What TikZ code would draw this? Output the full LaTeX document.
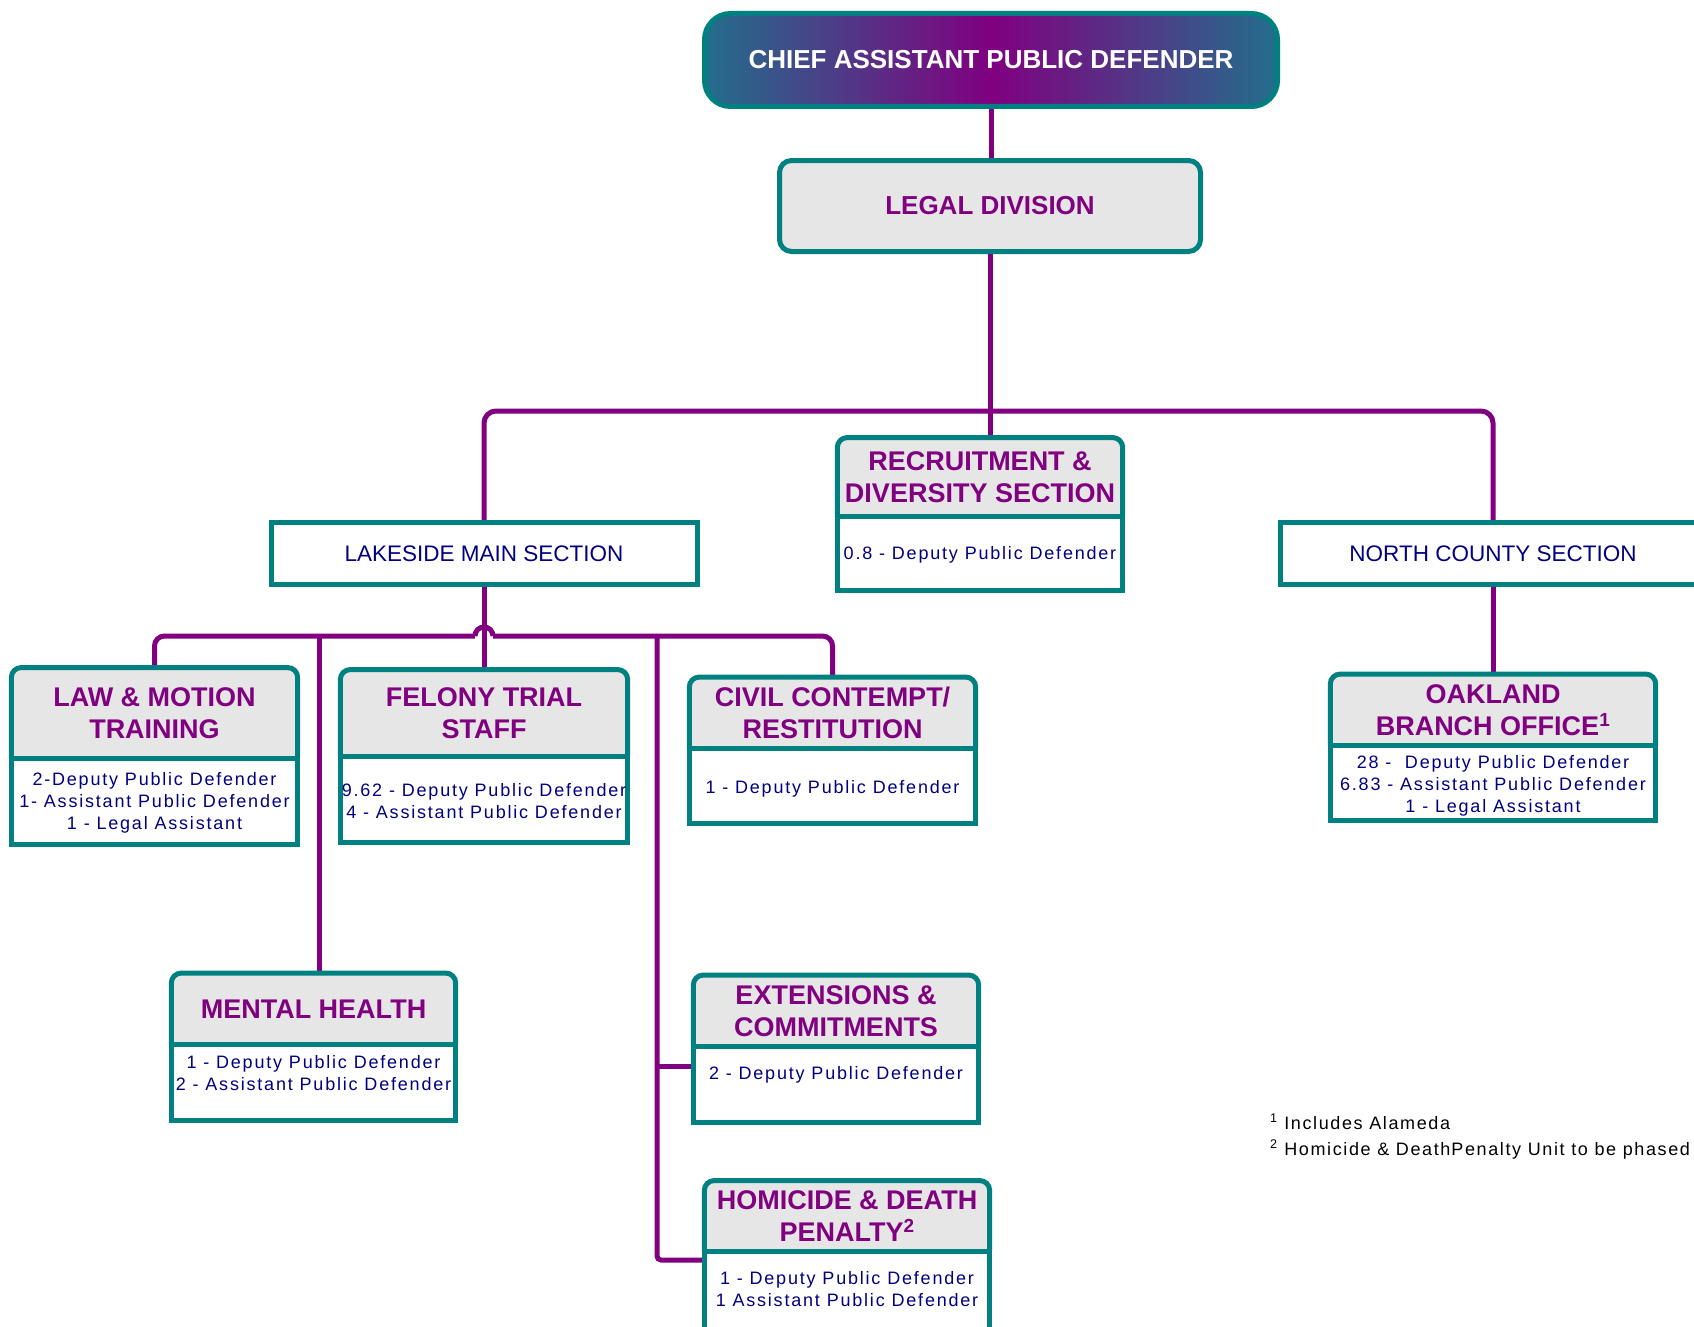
\documentclass[tikz,border=0pt]{standalone}
\usepackage{fontspec}
\setmainfont{Liberation Sans}
\newfontfamily\staff[LetterSpace=10]{Liberation Sans}
\newfontfamily\notefont[LetterSpace=9]{Liberation Sans}
\usetikzlibrary{backgrounds}

\definecolor{defpurple}{RGB}{128,0,128}
\definecolor{defnavy}{RGB}{0,0,128}
\definecolor{defteal}{RGB}{0,128,128}
\definecolor{boxgray}{RGB}{230,230,230}
\definecolor{chiefedge}{RGB}{35,110,140}

\tikzset{
  chief/.style={draw=defteal, line width=5pt, rounded corners=26pt,
    left color=chiefedge, right color=chiefedge, middle color=defpurple,
    minimum width=573pt, minimum height=93pt, text=white,
    font=\bfseries\fontsize{26}{31}\selectfont},
  division/.style={draw=defteal, line width=5pt, rounded corners=12pt, fill=boxgray,
    minimum width=421pt, minimum height=91pt, text=defpurple,
    font=\bfseries\fontsize{26}{31}\selectfont},
  section/.style={draw=defteal, line width=5pt, fill=white,
    minimum width=426pt, minimum height=62pt, text=defnavy,
    font=\fontsize{22.5}{27}\selectfont},
  head/.style={inner sep=0pt, align=center, text=defpurple,
    font=\bfseries\fontsize{27}{32.5}\selectfont},
  staff/.style={inner sep=0pt, align=center, text=defnavy,
    font=\staff\fontsize{18}{22}\selectfont},
  note/.style={inner sep=0pt, text=black, font=\notefont\fontsize{18}{22}\selectfont},
  link/.style={draw=defpurple, line width=5pt},
  frame/.style={draw=defteal, line width=5pt},
}

% header node name, depth of the staff part
\newcommand{\unitbox}[2]{%
  \filldraw[frame, fill=boxgray, rounded corners=10pt] (#1.south west) |- (#1.north) -| (#1.south east);
  \filldraw[frame, fill=white] (#1.south west) -- ++(0,#2) -| (#1.south east) -- cycle;}

\begin{document}
\begin{tikzpicture}[x=1pt, y=-1pt]
  \useasboundingbox (0,0) rectangle (1694,1327);

  %Top
  \node[chief] (chief) at (991,60) {CHIEF ASSISTANT PUBLIC DEFENDER};
  \node[division] (legal) at (990,206) {LEGAL DIVISION};

  %Sections
  \node[section] (lakeside) at (484,553.5) {LAKESIDE MAIN SECTION};
  \node[section] (north) at (1493,553.5) {NORTH COUNTY SECTION};

  %Units
  \begin{scope}[every node/.style={head}]
    \node[minimum width=285pt, minimum height=78.5pt] (recruit) at (980,477) {RECRUITMENT \&\\DIVERSITY SECTION};
    \node[minimum width=286pt, minimum height=90.5pt] (law) at (154.5,713) {LAW \& MOTION\\TRAINING};
    \node[minimum width=287pt, minimum height=86.5pt] (felony) at (484,713) {FELONY TRIAL\\STAFF};
    \node[minimum width=286pt, minimum height=71.5pt] (civil) at (832.5,713) {CIVIL CONTEMPT/\\RESTITUTION};
    \node[minimum width=325pt, minimum height=71.5pt] (oakland) at (1493,710) {OAKLAND\\BRANCH OFFICE\textsuperscript{1}};
    \node[minimum width=284pt, minimum height=71.5pt] (mental) at (313.5,1009) {MENTAL HEALTH};
    \node[minimum width=285pt, minimum height=71.5pt] (extension) at (836,1011) {EXTENSIONS \&\\COMMITMENTS};
    \node[minimum width=285pt, minimum height=70.5pt] (homicide) at (847,1216) {HOMICIDE \& DEATH\\PENALTY\textsuperscript{2}};
  \end{scope}

  \begin{scope}[every node/.style={staff}]
    \node (recruitB) at (980,555) {0.8 - Deputy Public Defender};
    \node (lawB) at (154.5,803) {2-Deputy Public Defender\\1- Assistant Public Defender\\1 - Legal Assistant};
    \node (felonyB) at (484,801) {9.62 - Deputy Public Defender\\4 - Assistant Public Defender};
    \node (civilB) at (832.5,789) {1 - Deputy Public Defender};
    \node (oaklandB) at (1493,786) {28 -\ \ Deputy Public Defender\\6.83 - Assistant Public Defender\\1 - Legal Assistant};
    \node (mentalB) at (313.5,1073) {1 - Deputy Public Defender\\2 - Assistant Public Defender};
    \node (extensionB) at (836,1075) {2 - Deputy Public Defender};
    \node (homicideB) at (847,1289) {1 - Deputy Public Defender\\1 Assistant Public Defender};
  \end{scope}

  %Footnotes
  \node[note, anchor=base west] (note1) at (1270,1129) {\textsuperscript{1} Includes Alameda};
  \node[note, anchor=base west] (note2) at (1270,1155) {\textsuperscript{2} Homicide \& Death\hspace{1pt}Penalty Unit to be phased};

  \begin{pgfonlayer}{background}
    \coordinate (topbar) at (991,411);
    \coordinate (hop) at (484,636);
    \coordinate (mhjoin) at (319,636);
    \coordinate (spine) at (657,636);
    \coordinate (extjoin) at (657,1066);
    \coordinate (homjoin) at (657,1260);

    \draw[link] (chief.south) -- (chief.south |- legal.north);
    \draw[link] (legal.south) -- (legal.south |- recruit.north);
    \draw[link, rounded corners=12pt] (lakeside.north) |- (topbar) -| (north.north);
    \draw[link] (north.south) -- (oakland.north);
    \draw[link] (lakeside.south) -- (felony.north);
    \draw[link, rounded corners=10pt] (law.north) |- ([xshift=-9pt]hop);
    \draw[link] ([xshift=-9pt]hop) arc[start angle=180, end angle=360, radius=9];
    \draw[link, rounded corners=10pt] ([xshift=9pt]hop) -| (civil.north);
    \draw[link] (mhjoin) -- (mhjoin |- mental.north);
    \draw[link] (extjoin) -- (extjoin -| extension.west);
    \draw[link, rounded corners=4pt] (spine) |- (homjoin -| homicide.west);

    \unitbox{recruit}{74.5}
    \unitbox{law}{86.5}
    \unitbox{felony}{86.5}
    \unitbox{civil}{74.5}
    \unitbox{oakland}{74.5}
    \unitbox{mental}{75.5}
    \unitbox{extension}{75.5}
    \unitbox{homicide}{80}
  \end{pgfonlayer}
\end{tikzpicture}
\end{document}
